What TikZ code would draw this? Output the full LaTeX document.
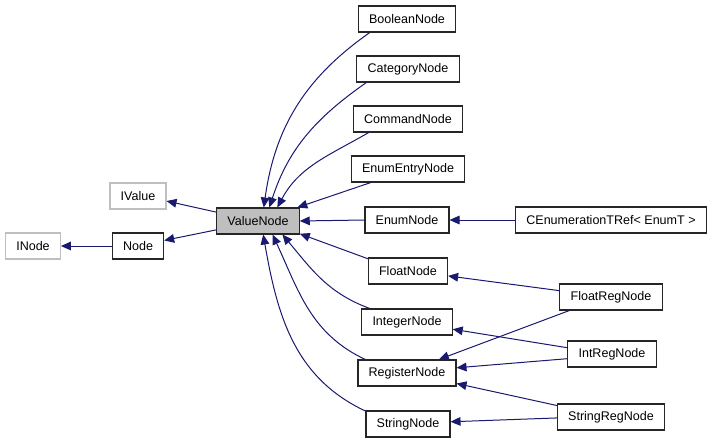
\documentclass[tikz,border=0pt]{standalone}
\usepackage{xcolor}
\usepackage{tikz}
\usetikzlibrary{arrows.meta}
\usepackage{fontspec}
\setmainfont{Liberation Sans}
\definecolor{inhblue}{HTML}{191970}
\definecolor{boxgray}{HTML}{BFBFBF}
\tikzset{
  classbox/.style={draw=black!85,line width=0.8pt,fill=white,minimum height=19.5pt,inner xsep=8pt,inner ysep=0pt,font=\fontsize{9.4}{11}\selectfont},
  extbox/.style={classbox,draw=boxgray},
  focusbox/.style={classbox,fill=boxgray},
  inh/.style={draw=inhblue,line width=0.75pt,-{Triangle[length=7.5pt,width=6.5pt]}}
}

\begin{document}
\begin{tikzpicture}[x=0.75pt,y=0.75pt]
  \useasboundingbox (0,0) rectangle (715,-443);
  % base classes
  \node[extbox] (INode) at (33,-246) {INode};
  \node[classbox] (Node) at (138,-246) {Node};
  \node[extbox] (IValue) at (138,-196) {IValue};
  \node[focusbox] (ValueNode) at (258,-221) {ValueNode};
  % derived from ValueNode
  \node[classbox] (BooleanNode) at (407,-19) {BooleanNode};
  \node[classbox] (CategoryNode) at (408,-69) {CategoryNode};
  \node[classbox] (CommandNode) at (408,-119) {CommandNode};
  \node[classbox] (EnumEntryNode) at (408,-169) {EnumEntryNode};
  \node[classbox] (EnumNode) at (407,-220) {EnumNode};
  \node[classbox] (FloatNode) at (408,-271) {FloatNode};
  \node[classbox] (IntegerNode) at (407,-322) {IntegerNode};
  \node[classbox] (RegisterNode) at (407,-373) {RegisterNode};
  \node[classbox] (StringNode) at (408,-424) {StringNode};
  % right column
  \node[classbox] (CEnumRef) at (611,-220) {CEnumerationTRef< EnumT >};
  \node[classbox] (FloatRegNode) at (611,-297) {FloatRegNode};
  \node[classbox] (IntRegNode) at (612,-354) {IntRegNode};
  \node[classbox] (StringRegNode) at (611,-417) {StringRegNode};

  \draw[inh] (Node.west) -- (INode.east);
  \draw[inh] (ValueNode.168) -- (IValue.350);
  \draw[inh] (ValueNode.192) -- (Node.12);

  \draw[inh] (BooleanNode.200) to[out=215,in=82] (ValueNode.67);
  \draw[inh] (CategoryNode.198) to[out=215,in=72] (ValueNode.50);
  \draw[inh] (CommandNode.199) to[out=210,in=62] (ValueNode.35);
  \draw[inh] (EnumEntryNode.200) -- (ValueNode.19);
  \draw[inh] (EnumNode.west) -- (ValueNode.east);
  \draw[inh] (FloatNode.163) -- (ValueNode.343);
  \draw[inh] (IntegerNode.160) to[out=160,in=-50] (ValueNode.-29);
  \draw[inh] (RegisterNode.162) to[out=155,in=-65] (ValueNode.-43);
  \draw[inh] (StringNode.163) to[out=155,in=-80] (ValueNode.-69);

  \draw[inh] (CEnumRef.west) -- (EnumNode.east);
  \draw[inh] (FloatRegNode.173) -- (FloatNode.-7);
  \draw[inh] (FloatRegNode.198) -- (RegisterNode.23);
  \draw[inh] (IntRegNode.172) -- (IntegerNode.-9);
  \draw[inh] (IntRegNode.186) -- (RegisterNode.6);
  \draw[inh] (StringRegNode.168) -- (RegisterNode.-12);
  \draw[inh] (StringRegNode.181) -- (StringNode.3);
\end{tikzpicture}
\end{document}
